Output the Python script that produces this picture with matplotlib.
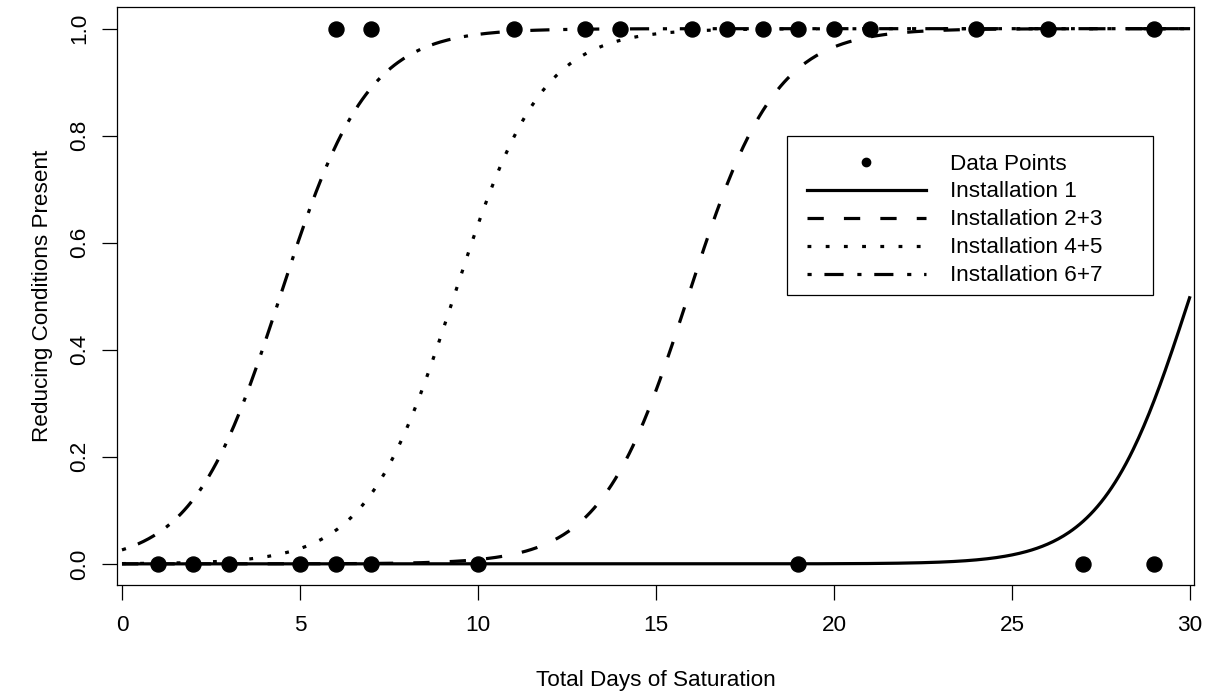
import numpy as np
import matplotlib
matplotlib.use("Agg")
import matplotlib.pyplot as plt
from matplotlib.lines import Line2D
from matplotlib.patches import Rectangle

# ---- data ----
days_absent = [1, 2, 3, 5, 6, 7, 10, 19, 27, 29]          # observed y = 0
days_present = [6, 7, 11, 13, 14, 16, 17, 18, 19, 20, 21, 24, 26, 29]  # observed y = 1

series_names = ["Installation 1", "Installation 2+3", "Installation 4+5", "Installation 6+7"]
# logistic-regression fits (common slope, one intercept per installation group)
fit_slope = 0.815
fit_intercepts = [-24.45, -12.96, -7.60, -3.62]

x_ticks = [0, 5, 10, 15, 20, 25, 30]
y_ticks = [0.0, 0.2, 0.4, 0.6, 0.8, 1.0]
x_label = "Total Days of Saturation"
y_label = "Reducing Conditions Present"

# ---- styling ----
plt.rcParams['font.family'] = ['Liberation Sans', 'DejaVu Sans']
FS = 16.2
LW = 2.3
styles = [
    dict(linestyle='-'),
    dict(linestyle=(0, (5.1, 6.3))),
    dict(linestyle=(0, (1.2, 4.5))),
    dict(linestyle=(0, (1.3, 4.0, 6.0, 4.3))),
]

fig = plt.figure(figsize=(12.09, 6.98), dpi=100)
ax = fig.add_axes([117 / 1209, 1 - 585 / 698, (1194 - 117) / 1209, (585 - 7) / 698])

ax.plot(days_absent, np.zeros(len(days_absent)), 'o', color='black', ms=10.8, zorder=3)
ax.plot(days_present, np.ones(len(days_present)), 'o', color='black', ms=10.8, zorder=3)

xs = np.linspace(0, 30, 601)
for name, b0, st in zip(series_names, fit_intercepts, styles):
    ys = 1.0 / (1.0 + np.exp(-(b0 + fit_slope * xs)))
    ax.plot(xs, ys, color='black', lw=LW, dash_capstyle='butt', solid_capstyle='butt',
            zorder=4, **st)

ax.set_xlim(-0.14, 30.11)
ax.set_ylim(-0.0395, 1.0405)
ax.set_xticks(x_ticks)
ax.set_xticklabels([str(t) for t in x_ticks])
ax.set_yticks(y_ticks)
ax.set_yticklabels([f"{t:.1f}" for t in y_ticks], rotation=90, va='center')

for s in ax.spines.values():
    s.set_linewidth(0.9)
    s.set_color('black')
ax.tick_params(axis='both', direction='out', length=10.8, width=0.9, labelsize=FS, colors='black')
ax.tick_params(axis='x', pad=10.5)
ax.tick_params(axis='y', pad=8.5)

ax.set_xlabel(x_label, fontsize=FS)
ax.xaxis.set_label_coords(0.5, -0.147)
ax.set_ylabel(y_label, fontsize=FS)
ax.yaxis.set_label_coords(-0.0695, 0.5)
ax.yaxis.label.set_verticalalignment('center')

# legend box (R-style square frame)
def px2ax(px, py):
    return ((px - 117) / 1077, (585 - py) / 578)

x0, y0 = px2ax(787, 295)
x1, y1 = px2ax(1153, 136)
ax.add_patch(Rectangle((x0, y0), x1 - x0, y1 - y0, transform=ax.transAxes,
                       facecolor='white', edgecolor='black', lw=0.9, zorder=5))

handles = [Line2D([], [], marker='o', color='black', linestyle='none', ms=6.0)]
for st in styles:
    handles.append(Line2D([], [], color='black', lw=LW, dash_capstyle='butt', **st))
labels = ["Data Points"] + series_names
lx, ly = px2ax(802, 149)
leg = ax.legend(handles, labels, loc='upper left', bbox_to_anchor=(lx, ly),
                bbox_transform=ax.transAxes, frameon=False, fontsize=FS,
                handlelength=5.3, handletextpad=1.1, labelspacing=0.31,
                borderpad=0.2, borderaxespad=0.0, numpoints=1)
leg.set_zorder(6)

fig.savefig("out.png", dpi=100)
